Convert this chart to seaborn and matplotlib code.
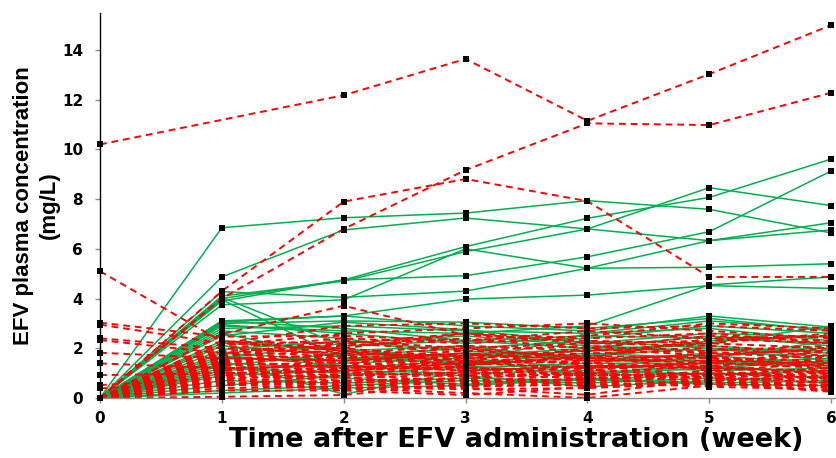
import pandas as pd
import matplotlib
matplotlib.use("Agg")
import matplotlib.pyplot as plt
import seaborn as sns

weeks = [0, 1, 2, 3, 4, 5, 6]

# Patients without a confounding regimen (solid green)
green_series = [
    [0, 6.85, 7.25, 7.44, 7.94, 7.59, 6.64],
    [0, 4.00, 4.75, 6.09, 7.23, 8.07, 9.61],
    [0, 4.87, 6.76, 7.24, 6.80, 8.46, 7.74],
    [0, 4.10, 4.70, 5.89, 6.80, 6.33, 7.05],
    [0, 3.90, 4.75, 4.92, 5.68, 6.69, 9.13],
    [0, 3.75, 3.95, 6.00, 5.22, 6.33, 6.76],
    [0, 4.28, 4.05, 4.30, 5.22, 5.26, 5.40],
    [0, 3.10, 3.30, 3.98, 4.14, 4.52, 4.41],
    [0, 2.90, 2.70, 2.60, 2.90, 4.55, 4.87],
    [0, 4.05, 2.10, 2.30, 2.50, 2.40, 2.20],
    [0, 3.95, 1.60, 1.80, 1.70, 2.00, 1.90],
    [0, 3.05, 3.30, 2.90, 2.70, 3.30, 2.85],
    [0, 3.00, 3.10, 3.05, 2.80, 3.20, 2.70],
    [0, 2.95, 2.60, 2.20, 2.40, 2.90, 2.60],
    [0, 2.80, 2.90, 2.70, 2.60, 3.10, 2.75],
    [0, 2.70, 2.40, 1.60, 1.90, 2.20, 2.90],
    [0, 2.50, 3.05, 2.75, 2.20, 2.60, 2.45],
    [0, 2.30, 1.90, 2.10, 1.50, 1.80, 1.70],
    [0, 2.20, 2.00, 1.40, 1.80, 1.60, 2.30],
    [0, 2.10, 1.70, 2.00, 2.30, 2.00, 1.50],
    [0, 1.95, 2.30, 1.90, 1.60, 1.50, 1.30],
    [0, 1.80, 1.50, 1.70, 2.00, 2.50, 2.10],
    [0, 1.70, 1.30, 1.20, 1.40, 1.40, 1.60],
    [0, 1.60, 2.20, 2.50, 2.10, 1.90, 2.00],
    [0, 1.50, 0.15, 1.10, 1.30, 1.10, 1.20],
    [0, 1.40, 1.20, 1.50, 1.00, 1.30, 1.00],
    [0, 1.30, 1.80, 1.30, 1.70, 2.30, 2.50],
    [0, 1.20, 1.00, 0.90, 0.45, 0.70, 0.90],
    [0, 1.10, 1.40, 1.60, 1.20, 1.70, 1.40],
    [0, 1.00, 0.80, 0.55, 0.80, 0.60, 0.70],
    [0, 0.90, 1.10, 1.00, 1.10, 0.95, 1.10],
    [0, 0.70, 0.60, 0.80, 0.70, 1.00, 0.80],
    [0, 0.50, 0.90, 1.30, 0.95, 1.20, 1.50],
    [0, 0.30, 0.50, 0.70, 0.60, 0.80, 0.60],
    [0, 0.20, 0.40, 0.50, 0.75, 0.55, 0.50],
    [0, 3.10, 2.80, 2.30, 2.00, 2.10, 1.80],
    [0, 2.60, 1.60, 1.40, 2.60, 2.80, 2.30],
]

# Patients on the comparison regimen (dashed red); None = not sampled
red_series = [
    [10.20, None, 12.18, 13.64, 11.15, 13.03, 15.00],
    [0, 4.00, 6.80, 9.17, 11.05, 10.98, 12.28],
    [0, 4.30, 7.90, 8.81, 7.92, 4.87, 4.87],
    [5.10, 2.27, 2.20, 1.90, 2.10, 1.80, 1.90],
    [3.03, 2.47, 2.50, 2.30, 2.70, 2.40, 2.20],
    [2.95, 2.20, 2.00, 2.60, 2.20, 2.30, 2.50],
    [2.40, 2.00, 1.80, 1.70, 1.90, 2.00, 1.70],
    [2.33, 1.80, 2.30, 2.00, 1.60, 1.70, 2.00],
    [1.82, 1.60, 1.50, 1.80, 1.50, 1.50, 1.40],
    [1.39, 1.20, 1.30, 1.10, 1.30, 1.20, 1.10],
    [0.92, 1.00, 1.10, 1.40, 1.20, 1.40, 1.30],
    [0.52, 0.80, 0.90, 1.00, 0.90, 1.00, 0.90],
    [0.39, 0.60, 0.70, 0.80, 1.00, 0.80, 0.70],
    [0, 2.57, 3.71, 2.53, 2.30, 2.20, 2.60],
    [0, 2.20, 2.90, 3.00, 2.80, 2.90, 2.70],
    [0, 2.10, 2.60, 2.80, 3.00, 2.70, 2.40],
    [0, 2.00, 2.40, 2.20, 2.50, 3.00, 2.80],
    [0, 1.90, 2.10, 2.40, 2.00, 2.50, 2.30],
    [0, 1.85, 1.70, 2.00, 2.20, 2.10, 1.80],
    [0, 1.80, 2.00, 1.60, 1.80, 1.90, 2.10],
    [0, 1.75, 1.60, 1.90, 1.70, 1.60, 1.50],
    [0, 1.70, 1.90, 1.50, 1.40, 1.80, 1.60],
    [0, 1.65, 1.40, 1.70, 1.60, 1.40, 1.90],
    [0, 1.60, 1.70, 1.30, 2.00, 1.70, 1.20],
    [0, 1.55, 1.50, 1.80, 1.30, 1.30, 1.50],
    [0, 1.50, 1.20, 1.40, 1.50, 1.60, 1.30],
    [0, 1.45, 1.60, 1.20, 1.10, 1.50, 1.70],
    [0, 1.40, 1.30, 1.60, 1.40, 1.20, 1.00],
    [0, 1.35, 1.10, 1.30, 1.70, 1.10, 1.40],
    [0, 1.30, 1.45, 1.10, 1.20, 1.40, 1.20],
    [0, 1.25, 1.00, 1.20, 0.90, 1.00, 0.80],
    [0, 1.20, 1.30, 0.90, 1.30, 0.90, 1.10],
    [0, 1.15, 0.90, 1.05, 1.00, 1.30, 0.95],
    [0, 1.10, 1.20, 1.50, 1.15, 0.85, 0.60],
    [0, 1.05, 0.80, 0.95, 0.80, 0.95, 1.20],
    [0, 1.00, 1.05, 0.85, 1.05, 0.75, 0.85],
    [0, 0.95, 0.70, 0.75, 0.70, 1.10, 0.75],
    [0, 0.90, 1.15, 1.25, 0.85, 0.70, 0.50],
    [0, 0.85, 0.95, 0.65, 0.95, 0.65, 0.40],
    [0, 0.80, 0.60, 0.70, 0.60, 0.90, 1.00],
    [0, 0.75, 0.50, 0.60, 0.75, 0.55, 0.65],
    [0, 0.70, 0.85, 0.45, 0.55, 0.60, 0.30],
    [0, 0.65, 0.40, 0.20, 0.00, 0.50, 0.55],
    [0, 0.60, 0.55, 0.40, 0.13, 0.80, 0.45],
    [0, 0.55, 0.35, 0.50, 0.65, 0.45, 0.35],
    [0, 0.50, 0.65, 0.55, 0.50, 0.70, 0.80],
    [0, 0.40, 0.45, 0.35, 0.40, 0.60, 0.25],
    [0, 0.30, 0.30, 0.12, 0.45, 0.55, 0.50],
    [0, 0.05, 0.12, 0.60, 0.80, 0.85, 0.90],
    [0, 1.75, 2.20, 2.60, 2.40, 2.60, 2.20],
    [0, 1.45, 1.80, 2.10, 1.90, 2.20, 2.00],
    [0, 2.30, 1.90, 1.40, 1.60, 2.40, 2.50],
]

y_ticks = [0, 2, 4, 6, 8, 10, 12, 14]
x_label = "Time after EFV administration (week)"
y_label = "EFV plasma concentration\n(mg/L)"


def to_long(series, group):
    rows = []
    for i, vals in enumerate(series):
        for w, v in zip(weeks, vals):
            if v is None:
                continue
            rows.append({"subject": f"{group}{i}", "week": w, "conc": v})
    return pd.DataFrame(rows)


green_df = to_long(green_series, "g")
red_df = to_long(red_series, "r")
all_df = pd.concat([green_df, red_df], ignore_index=True)

sns.set_theme(style="white")
plt.rcParams["font.family"] = ["DejaVu Sans"]

W, H = 836, 458
fig = plt.figure(figsize=(W / 100, H / 100), dpi=100)
ax = fig.add_axes([100 / W, 60 / H, 736 / W, 385.3 / H])

sns.lineplot(data=green_df, x="week", y="conc", units="subject", estimator=None,
             sort=False, color="#00B050", linewidth=1.1, ax=ax, legend=False)
sns.lineplot(data=red_df, x="week", y="conc", units="subject", estimator=None,
             sort=False, color="#FF0000", linewidth=1.4,
             linestyle=(0, (3.5, 2.5)), ax=ax, legend=False)
sns.scatterplot(data=all_df, x="week", y="conc", marker="s", color="black",
                s=14, linewidth=0, ax=ax, legend=False, zorder=5, clip_on=False)

ax.set_xlim(0, 6.04)
ax.set_ylim(0, 15.5)
ax.set_xticks(weeks)
ax.set_yticks(y_ticks)

for side in ("top", "right"):
    ax.spines[side].set_visible(False)
ax.spines["left"].set_color("black")
ax.spines["left"].set_linewidth(1.0)
ax.spines["bottom"].set_color("#8c8c8c")
ax.spines["bottom"].set_linewidth(1.0)

ax.tick_params(axis="both", which="major", direction="out", length=3.6, width=1,
               color="#8c8c8c", labelsize=11, labelcolor="black",
               left=True, bottom=True)
ax.tick_params(axis="y", pad=8.5)
ax.tick_params(axis="x", pad=5.5)
for lbl in ax.get_xticklabels() + ax.get_yticklabels():
    lbl.set_fontweight("bold")

ax.set_xlabel(x_label, fontsize=19.5, fontweight="bold", color="black")
ax.xaxis.set_label_coords(0.565, -0.076)
ax.set_ylabel(y_label, fontsize=16, fontweight="bold", color="black",
              family=["Liberation Sans", "DejaVu Sans"], linespacing=1.35)
ax.yaxis.set_label_coords(-0.054, 0.5)

fig.savefig("out.png", dpi=100)
